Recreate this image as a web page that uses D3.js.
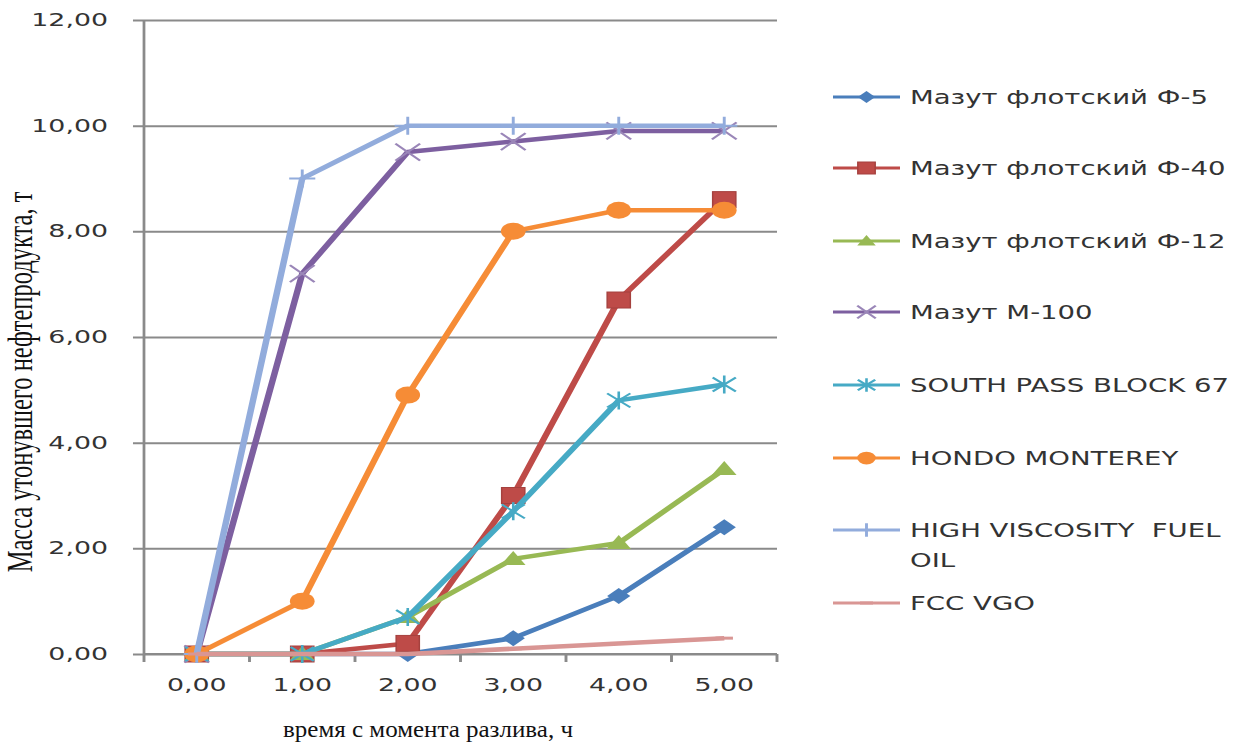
<!DOCTYPE html>
<html>
<head>
<meta charset="utf-8">
<script src="https://cdn.jsdelivr.net/npm/d3@7"></script>
<style>
  body { margin: 0; background: #fff; }
  .tick text { font-family: "DejaVu Sans", sans-serif; font-size: 18.5px; fill: #333; }
  .legend text { font-family: "DejaVu Sans", sans-serif; font-size: 19px; fill: #333; }
  .title { font-family: "Liberation Serif", "Times New Roman", serif; fill: #111; }
</style>
</head>
<body>
<div id="grafico"></div>
<script>
// categories (time since spill, h) and y ticks
var horas = ["0,00", "1,00", "2,00", "3,00", "4,00", "5,00"];
var yTicks = [0, 2, 4, 6, 8, 10, 12];

// series values, t
var mazutF5   = [0, 0, 0, 0.3, 1.1, 2.4];
var mazutF40  = [0, 0, 0.2, 3.0, 6.7, 8.6];
var mazutF12  = [0, 0, 0.7, 1.8, 2.1, 3.5];
var mazutM100 = [0, 7.2, 9.5, 9.7, 9.9, 9.9];
var southPass = [0, 0, 0.7, 2.7, 4.8, 5.1];
var hondo     = [0, 1.0, 4.9, 8.0, 8.4, 8.4];
var hvfo      = [0, 9.0, 10.0, 10.0, 10.0, 10.0];
var fccVgo    = [0, 0, 0, 0.1, 0.2, 0.3];

var nomes = ["Мазут флотский Ф-5", "Мазут флотский Ф-40", "Мазут флотский Ф-12", "Мазут М-100",
             "SOUTH PASS BLOCK 67", "HONDO MONTEREY", "HIGH VISCOSITY  FUEL OIL", "FCC VGO"];

var series = [
  {nome: nomes[0], valores: mazutF5,   cor: "#4a7ebb", marca: "diamond"},
  {nome: nomes[1], valores: mazutF40,  cor: "#be4b48", marca: "square"},
  {nome: nomes[2], valores: mazutF12,  cor: "#98b954", marca: "triangle"},
  {nome: nomes[3], valores: mazutM100, cor: "#7d5fa0", marca: "x"},
  {nome: nomes[4], valores: southPass, cor: "#46aac5", marca: "star"},
  {nome: nomes[5], valores: hondo,     cor: "#f68c36", marca: "circle"},
  {nome: nomes[6], valores: hvfo,      cor: "#92acdc", marca: "plus"},
  {nome: nomes[7], valores: fccVgo,    cor: "#d99694", marca: "dash"}
];

// the reference picture is stretched horizontally, so draw in a squeezed frame
var SX = 1.45;
var W = 1240, H = 742;
var mLeft = 144 / SX, mRight = 777 / SX, mTop = 20, mBottom = 654;
var width = mRight - mLeft, height = mBottom - mTop;

var svg = d3.select("#grafico").append("svg")
    .attr("width", W)
    .attr("height", H);
var root = svg.append("g").attr("transform", "scale(" + SX + ",1)");
var g = root.append("g").attr("transform", "translate(" + mLeft + "," + mTop + ")");

var x = d3.scaleBand().domain(horas).range([0, width]);
var y = d3.scaleLinear().domain([0, 12]).range([height, 0]);
var cx = function(i) { return x(horas[i]) + x.bandwidth() / 2; };

var fmt = function(v) { return d3.format(".2f")(v).replace(".", ","); };

// gridlines + y labels
var yAxis = g.append("g")
    .call(d3.axisLeft(y).tickValues(yTicks).tickFormat(fmt).tickSize(-width));
yAxis.select(".domain").remove();
yAxis.selectAll(".tick line")
    .attr("x1", -7.6)
    .attr("stroke", "#8a8a8a")
    .attr("stroke-width", 2);
yAxis.selectAll(".tick text")
    .attr("x", -24.8)
    .attr("dy", "0.62em")
    .attr("y", -6);

// y axis line
g.append("line")
    .attr("x1", 0).attr("x2", 0)
    .attr("y1", y(12)).attr("y2", y(0))
    .attr("stroke", "#8a8a8a").attr("stroke-width", 1.9);

// x axis
var xAxis = g.append("g")
    .attr("transform", "translate(0," + height + ")")
    .call(d3.axisBottom(x).tickSize(0).tickPadding(24));
xAxis.select(".domain").remove();
xAxis.append("line")
    .attr("x1", 0).attr("x2", width)
    .attr("stroke", "#8a8a8a").attr("stroke-width", 2);
xAxis.selectAll(".edge")
    .data(horas.concat(["end"]))
    .enter().append("line")
    .attr("class", "edge")
    .attr("x1", function(d, i) { return i * x.step(); })
    .attr("x2", function(d, i) { return i * x.step(); })
    .attr("y1", 0).attr("y2", 8)
    .attr("stroke", "#8a8a8a").attr("stroke-width", 2);

// marker shapes
function marca(sel, tipo, cor, k) {
  k = k || 1;
  var sc = function(str) { return str.replace(/-?\d+(\.\d+)?/g, function(n) { return +n * k; }); };
  if (tipo == "diamond") {
    sel.append("path").attr("d", sc("M0,-8L8,0L0,8L-8,0Z")).attr("fill", cor);
  } else if (tipo == "square") {
    sel.append("rect").attr("x", -8*k).attr("y", -8*k).attr("width", 16*k).attr("height", 16*k)
      .attr("fill", cor).attr("stroke", d3.color(cor).darker(0.4)).attr("stroke-width", 1);
  } else if (tipo == "triangle") {
    sel.append("path").attr("d", sc("M0,-8L8.5,6L-8.5,6Z")).attr("fill", cor);
  } else if (tipo == "circle") {
    sel.append("circle").attr("r", 8.5*k).attr("fill", cor);
  } else if (tipo == "x") {
    sel.append("path").attr("d", sc("M-8.5,-8.5L8.5,8.5M-8.5,8.5L8.5,-8.5"))
      .attr("stroke", "#9a86b8").attr("stroke-width", 1.8).attr("fill", "none");
  } else if (tipo == "star") {
    sel.append("path").attr("d", sc("M-8,-7L8,7M-8,7L8,-7M0,-9L0,9"))
      .attr("stroke", cor).attr("stroke-width", 1.8).attr("fill", "none");
  } else if (tipo == "plus") {
    sel.append("path").attr("d", sc("M-9,0L9,0M0,-9L0,9"))
      .attr("stroke", cor).attr("stroke-width", 2).attr("fill", "none");
  } else if (tipo == "dash") {
    sel.append("path").attr("d", sc("M-6,0L6,0"))
      .attr("stroke", cor).attr("stroke-width", 3).attr("fill", "none");
  }
}

var linha = d3.line()
    .x(function(d, i) { return cx(i); })
    .y(function(d) { return y(d); });

series.forEach(function(s) {
  var gs = g.append("g");
  gs.append("path")
    .datum(s.valores)
    .attr("d", linha)
    .attr("fill", "none")
    .attr("stroke", s.cor)
    .attr("stroke-width", 4.5)
    .attr("stroke-linejoin", "round");
  s.valores.forEach(function(v, i) {
    var m = gs.append("g").attr("transform", "translate(" + cx(i) + "," + y(v) + ")");
    marca(m, s.marca, s.cor, 1);
  });
});

// legend
var legX0 = 833 / SX, legX1 = 900 / SX, legText = 910 / SX;
var legY = [97, 168, 241, 312, 385, 458, 530, 603];
var leg = root.append("g").attr("class", "legend");
series.forEach(function(s, i) {
  var row = leg.append("g").attr("transform", "translate(0," + legY[i] + ")");
  row.append("line").attr("x1", legX0).attr("x2", legX1)
    .attr("stroke", s.cor).attr("stroke-width", 3);
  var m = row.append("g").attr("transform", "translate(" + ((legX0 + legX1) / 2) + ",0)");
  marca(m, s.marca, s.cor, 0.75);
  var t = row.append("text").attr("x", legText).attr("y", 7);
  if (s.nome == "HIGH VISCOSITY  FUEL OIL") {
    t.append("tspan").attr("x", legText).text("HIGH VISCOSITY\u00a0\u00a0FUEL");
    t.append("tspan").attr("x", legText).attr("dy", 30).text("OIL");
  } else {
    t.text(s.nome);
  }
});

// axis titles
svg.append("text")
  .attr("class", "title")
  .style("font-size", "24px")
  .attr("text-anchor", "middle")
  .attr("x", 428)
  .attr("y", 737)
  .attr("textLength", 290)
  .attr("lengthAdjust", "spacingAndGlyphs")
  .text("время с момента разлива, ч");

root.append("text")
  .attr("class", "title")
  .style("font-size", "24.5px")
  .attr("text-anchor", "middle")
  .attr("transform", "translate(" + (20 / SX) + "," + 382 + ") rotate(-90)")
  .attr("dy", "0.35em")
  .text("Масса утонувшего нефтепродукта, т");
</script>
</body>
</html>
